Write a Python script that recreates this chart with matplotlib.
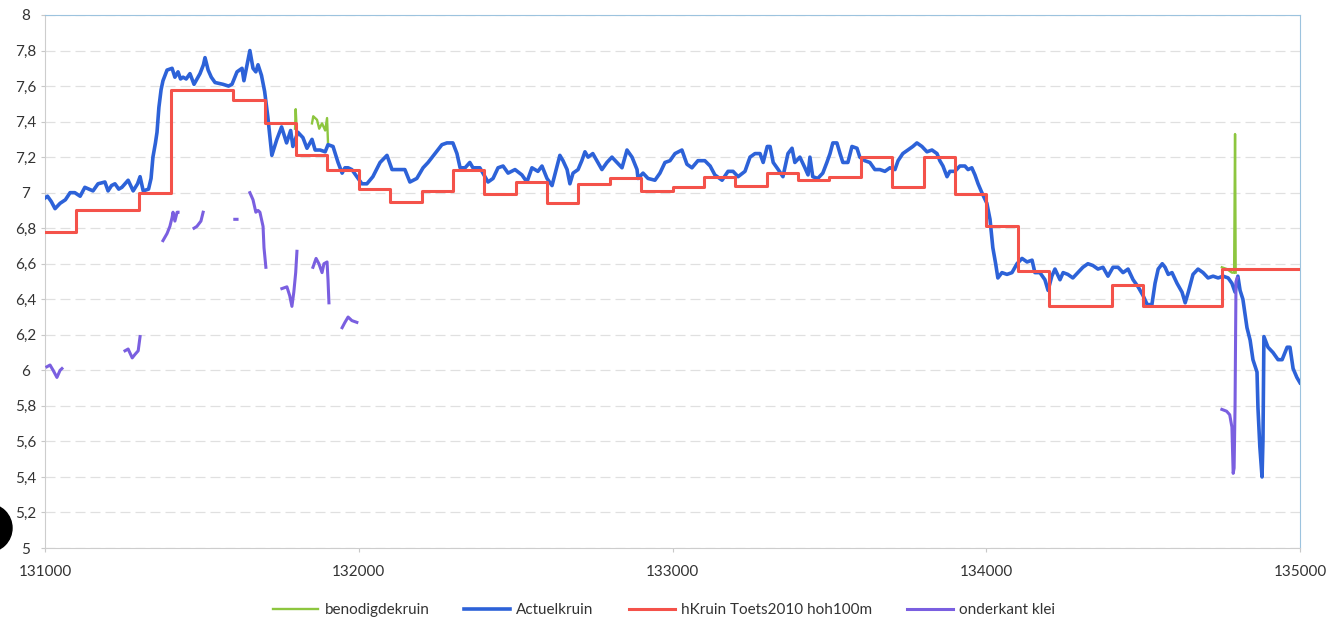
import matplotlib
matplotlib.use('Agg')
import matplotlib.pyplot as plt
from matplotlib.ticker import FuncFormatter, MultipleLocator
from matplotlib.patches import Circle
from matplotlib.transforms import IdentityTransform

plt.rcParams['font.family'] = ['Lato', 'DejaVu Sans']

# benodigdekruin (alleen zichtbare stukken, None = onderbreking)
groen_x = [131797, 131799, 131801, None,
           131851, 131855, 131867, 131874, 131883, 131893, 131899, 131902, None,
           134751, 134767, 134783, 134790, 134793, 134795]
groen_y = [7.36, 7.47, 7.40, None,
           7.39, 7.43, 7.41, 7.36, 7.39, 7.35, 7.42, 7.28, None,
           6.58, 6.57, 6.55, 6.55, 7.33, 6.55]

# Actuelkruin
blauw_x = [131000, 131008, 131020, 131032, 131048, 131065, 131080, 131095, 131112, 131127,
           131140, 131153, 131169, 131191, 131201, 131212, 131223, 131235, 131245, 131265,
           131281, 131295, 131303, 131313, 131330, 131338, 131344, 131352, 131357, 131363,
           131370, 131376, 131389, 131405, 131414, 131424, 131432, 131440, 131450, 131462,
           131475, 131494, 131505, 131510, 131520, 131530, 131542, 131567, 131585, 131596,
           131612, 131628, 131634, 131643, 131653, 131663, 131672, 131679, 131690, 131700,
           131710, 131723, 131739, 131754, 131770, 131783, 131790, 131806, 131822, 131835,
           131851, 131861, 131877, 131893, 131902, 131918, 131934, 131947, 131956, 131966,
           131978, 131994, 132010, 132026, 132045, 132068, 132090, 132106, 132125, 132147,
           132163, 132185, 132205, 132221, 132243, 132265, 132281, 132300, 132313, 132323,
           132339, 132354, 132364, 132386, 132402, 132412, 132428, 132444, 132460, 132476,
           132498, 132520, 132536, 132552, 132571, 132584, 132600, 132616, 132632, 132641,
           132651, 132664, 132673, 132683, 132699, 132711, 132721, 132731, 132746, 132759,
           132775, 132791, 132807, 132823, 132839, 132855, 132871, 132887, 132890, 132906,
           132922, 132944, 132960, 132976, 132992, 133008, 133030, 133046, 133062, 133081,
           133103, 133120, 133135, 133158, 133177, 133193, 133209, 133231, 133247, 133263,
           133279, 133289, 133302, 133311, 133321, 133337, 133352, 133368, 133381, 133390,
           133406, 133422, 133432, 133438, 133447, 133463, 133479, 133492, 133502, 133511,
           133524, 133534, 133543, 133559, 133572, 133588, 133597, 133613, 133629, 133645,
           133661, 133677, 133693, 133709, 133719, 133734, 133750, 133766, 133779, 133795,
           133811, 133827, 133843, 133852, 133862, 133875, 133884, 133900, 133916, 133932,
           133942, 133954, 133964, 133974, 133986, 134002, 134012, 134021, 134030, 134037,
           134050, 134066, 134082, 134098, 134114, 134130, 134146, 134155, 134171, 134187,
           134197, 134209, 134219, 134235, 134245, 134260, 134276, 134292, 134308, 134324,
           134340, 134356, 134372, 134388, 134404, 134420, 134436, 134452, 134468, 134484,
           134500, 134513, 134528, 134538, 134548, 134561, 134570, 134580, 134592, 134608,
           134624, 134634, 134644, 134659, 134675, 134691, 134707, 134723, 134739, 134755,
           134771, 134783, 134793, 134802, 134809, 134818, 134831, 134841, 134850, 134863,
           134866, 134872, 134879, 134882, 134885, 134898, 134914, 134930, 134943, 134959,
           134968, 134978, 134990, 135000]
blauw_y = [6.97, 6.98, 6.95, 6.91, 6.94, 6.96, 7.00, 7.00, 6.98, 7.03,
           7.02, 7.01, 7.05, 7.06, 7.01, 7.04, 7.05, 7.02, 7.03, 7.07,
           7.01, 7.05, 7.09, 7.01, 7.02, 7.08, 7.20, 7.28, 7.34, 7.48,
           7.58, 7.63, 7.69, 7.70, 7.65, 7.68, 7.64, 7.65, 7.64, 7.67,
           7.61, 7.67, 7.72, 7.76, 7.69, 7.65, 7.62, 7.61, 7.60, 7.61,
           7.68, 7.70, 7.63, 7.71, 7.80, 7.70, 7.68, 7.72, 7.66, 7.57,
           7.43, 7.21, 7.30, 7.37, 7.28, 7.35, 7.26, 7.34, 7.31, 7.25,
           7.30, 7.24, 7.24, 7.23, 7.27, 7.26, 7.17, 7.11, 7.14, 7.14,
           7.13, 7.09, 7.05, 7.05, 7.09, 7.17, 7.21, 7.13, 7.13, 7.13,
           7.06, 7.08, 7.14, 7.17, 7.22, 7.27, 7.28, 7.28, 7.22, 7.14,
           7.14, 7.17, 7.14, 7.14, 7.09, 7.06, 7.08, 7.14, 7.15, 7.11,
           7.13, 7.10, 7.06, 7.14, 7.12, 7.15, 7.08, 7.04, 7.15, 7.21,
           7.18, 7.13, 7.05, 7.11, 7.13, 7.18, 7.23, 7.20, 7.22, 7.18,
           7.13, 7.17, 7.20, 7.17, 7.14, 7.24, 7.20, 7.13, 7.08, 7.11,
           7.08, 7.07, 7.11, 7.17, 7.18, 7.22, 7.24, 7.16, 7.14, 7.18,
           7.18, 7.15, 7.10, 7.07, 7.12, 7.12, 7.09, 7.12, 7.20, 7.22,
           7.22, 7.17, 7.26, 7.26, 7.17, 7.13, 7.09, 7.22, 7.25, 7.17,
           7.20, 7.14, 7.10, 7.20, 7.09, 7.08, 7.11, 7.17, 7.22, 7.28,
           7.28, 7.22, 7.17, 7.17, 7.26, 7.25, 7.20, 7.18, 7.17, 7.13,
           7.13, 7.12, 7.14, 7.13, 7.18, 7.22, 7.24, 7.26, 7.28, 7.26,
           7.23, 7.24, 7.22, 7.18, 7.15, 7.09, 7.12, 7.12, 7.15, 7.15,
           7.13, 7.14, 7.10, 7.05, 7.00, 6.94, 6.85, 6.69, 6.60, 6.52,
           6.55, 6.54, 6.55, 6.60, 6.63, 6.61, 6.62, 6.55, 6.55, 6.51,
           6.45, 6.53, 6.57, 6.51, 6.55, 6.54, 6.52, 6.55, 6.58, 6.60,
           6.59, 6.57, 6.58, 6.53, 6.58, 6.58, 6.55, 6.57, 6.51, 6.47,
           6.42, 6.37, 6.37, 6.49, 6.57, 6.60, 6.58, 6.54, 6.55, 6.49,
           6.44, 6.38, 6.44, 6.54, 6.57, 6.55, 6.52, 6.53, 6.52, 6.53,
           6.52, 6.49, 6.44, 6.53, 6.45, 6.40, 6.24, 6.17, 6.06, 5.99,
           5.79, 5.57, 5.40, 5.61, 6.19, 6.13, 6.10, 6.06, 6.06, 6.13,
           6.13, 6.01, 5.96, 5.93]

# hKruin Toets2010 hoh100m (trapjes, begin van elk vak)
rood_x = [131000, 131100, 131200, 131300, 131400, 131500, 131600, 131700, 131800, 131900,
          132000, 132100, 132200, 132300, 132400, 132500, 132600, 132700, 132800, 132900,
          133000, 133100, 133200, 133300, 133400, 133500, 133600, 133700, 133800, 133900,
          134000, 134100, 134200, 134300, 134400, 134500, 134600, 134700, 134750, 135000]
rood_y = [6.78, 6.90, 6.90, 7.00, 7.58, 7.58, 7.52, 7.39, 7.21, 7.13,
          7.02, 6.95, 7.01, 7.13, 6.99, 7.06, 6.94, 7.05, 7.08, 7.01,
          7.03, 7.09, 7.04, 7.11, 7.07, 7.09, 7.20, 7.03, 7.20, 6.99,
          6.81, 6.56, 6.36, 6.36, 6.48, 6.36, 6.36, 6.36, 6.57, 6.57]

# onderkant klei (losse stukken)
paars_x = [131006, 131016, 131026, 131038, 131048, 131054, None,
           131255, 131265, 131278, 131287, 131297, 131303, None,
           131376, 131389, 131398, 131405, 131408, 131414, 131421, 131424, None,
           131475, 131484, 131497, 131504, None,
           131605, 131612, None,
           131653, 131663, 131672, 131679, 131685, 131695, 131698, 131704, None,
           131755, 131771, 131780, 131787, 131793, 131799, 131803, None,
           131854, 131864, 131873, 131883, 131889, 131899, 131902, 131905, None,
           131947, 131956, 131966, 131978, 131994, None,
           134751, 134766, 134776, 134783, 134787, 134790, 134793, 134796, 134800]
paars_y = [6.02, 6.03, 6.00, 5.96, 6.00, 6.01, None,
           6.11, 6.12, 6.07, 6.09, 6.11, 6.19, None,
           6.73, 6.77, 6.81, 6.86, 6.89, 6.84, 6.89, 6.89, None,
           6.80, 6.81, 6.84, 6.89, None,
           6.85, 6.85, None,
           7.00, 6.96, 6.89, 6.90, 6.89, 6.81, 6.69, 6.58, None,
           6.46, 6.47, 6.42, 6.36, 6.44, 6.55, 6.67, None,
           6.58, 6.63, 6.60, 6.55, 6.60, 6.61, 6.51, 6.38, None,
           6.24, 6.27, 6.30, 6.28, 6.27, None,
           5.78, 5.77, 5.75, 5.68, 5.42, 5.45, 5.80, 6.50, 6.52]

fig = plt.figure(figsize=(13.41, 6.31), dpi=100)
ax = fig.add_axes([45 / 1341, 1 - 548 / 631, 1255 / 1341, 533 / 631])

ax.plot(groen_x, groen_y, color='#8DC63F', lw=1.7, label='benodigdekruin', zorder=2)
ax.plot(blauw_x, blauw_y, color='#2D62D8', lw=2.6, label='Actuelkruin', zorder=3,
        solid_joinstyle='round')
ax.step(rood_x, rood_y, where='post', color='#F4524A', lw=2.2,
        label='hKruin Toets2010 hoh100m', zorder=4)
ax.plot(paars_x, paars_y, color='#7A5FE0', lw=2.2, label='onderkant klei', zorder=5,
        solid_joinstyle='round')

ax.set_xlim(131000, 135000)
ax.set_ylim(5, 8)
ax.xaxis.set_major_locator(MultipleLocator(1000))
ax.yaxis.set_major_locator(MultipleLocator(0.2))
ax.yaxis.set_major_formatter(FuncFormatter(lambda v, p: ('%g' % round(v, 1)).replace('.', ',')))
ax.grid(axis='y', color='#E0E0E0', lw=0.9, ls=(0, (8, 4)))
ax.set_axisbelow(True)

for s in ['top', 'right']:
    ax.spines[s].set_color('#9CC3DE')
for s in ['left', 'bottom']:
    ax.spines[s].set_color('#CDCDCD')
ax.tick_params(axis='y', length=3, color='#C8C8C8', pad=11, labelsize=11, labelcolor='#333333')
ax.tick_params(axis='x', length=3, color='#C8C8C8', pad=9, labelsize=11, labelcolor='#333333')
for t in ax.get_yticklabels():
    t.set_horizontalalignment('center')

fig.legend(loc='lower center', bbox_to_anchor=(0.495, 0.0), ncol=4, frameon=False,
           fontsize=11, handlelength=3, handletextpad=0.4, columnspacing=2.3,
           labelcolor='#333333')

# zwarte vlek linksonder (scan)
fig.add_artist(Circle((-12, 103), 24, transform=IdentityTransform(), color='black'))

fig.savefig('out.png', dpi=100)
